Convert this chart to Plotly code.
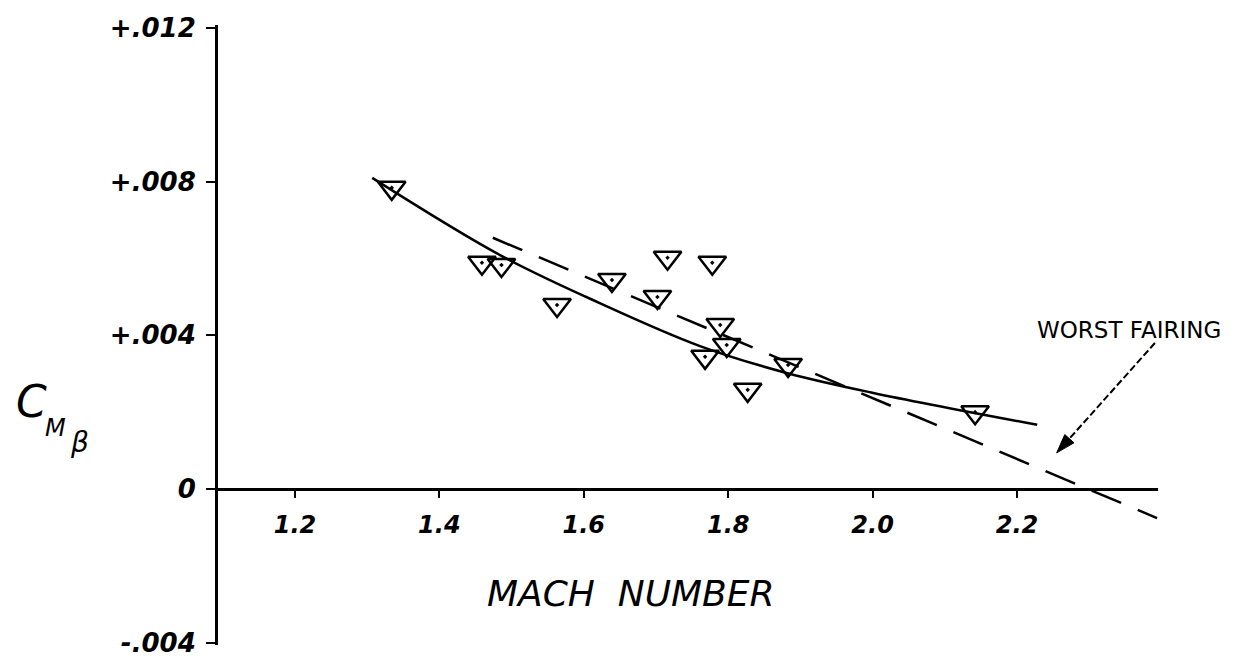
import plotly.graph_objects as go

# Data
mach = [1.334, 1.459, 1.486, 1.563, 1.639, 1.716, 1.778, 1.702, 1.789, 1.798, 1.768, 1.827, 1.883, 2.142]
cmb = [0.00784, 0.00589, 0.00583, 0.00479, 0.00544, 0.00602, 0.00589, 0.00500, 0.00427, 0.00375, 0.00344, 0.00258, 0.00323, 0.00200]

fair_x = [1.307, 1.484, 1.622, 1.761, 1.881, 2.001, 2.228]
fair_y = [0.00810, 0.00609, 0.00484, 0.00372, 0.00302, 0.00250, 0.00167]

worst_x = [1.474, 2.394]
worst_y = [0.00654, -0.00076]

arrow_x = [2.391, 2.255]
arrow_y = [0.00380, 0.00094]

x_ticks = [1.2, 1.4, 1.6, 1.8, 2.0, 2.2]
x_ticktext = ["1.2", "1.4", "1.6", "1.8", "2.0", "2.2"]
y_ticks = [-0.004, 0.0, 0.004, 0.008, 0.012]
y_ticktext = ["-.004", "0", "+.004", "+.008", "+.012"]

x_range = [1.0934, 2.3953]
y_range = [-0.004063, 0.01208]

fig = go.Figure()

fig.add_trace(go.Scatter(x=fair_x, y=fair_y, mode="lines",
                         line=dict(color="black", width=2.5, shape="spline", smoothing=1.0),
                         hoverinfo="skip", showlegend=False))
fig.add_trace(go.Scatter(x=worst_x, y=worst_y, mode="lines",
                         line=dict(color="black", width=2.5, dash="32px,18px"),
                         hoverinfo="skip", showlegend=False))
fig.add_trace(go.Scatter(x=mach, y=cmb, mode="markers",
                         marker=dict(symbol="triangle-down-open-dot", size=24,
                                     color="black", line=dict(color="black", width=2.5)),
                         showlegend=False))
# arrow pointing at the worst fairing line
fig.add_trace(go.Scatter(x=arrow_x, y=arrow_y, mode="lines+markers",
                         line=dict(color="black", width=2, dash="7px,3px"),
                         marker=dict(symbol="arrow", size=[0, 20], angleref="previous",
                                     color="black", opacity=1,
                                     line=dict(color="black", width=1)),
                         hoverinfo="skip", showlegend=False))

fig.add_annotation(x=2.355, y=0.00414, xref="x", yref="y", text="WORST FAIRING",
                   showarrow=False, font=dict(family="DejaVu Sans", size=23, color="black"))

fig.add_annotation(x=1.665, y=-0.00271, xref="x", yref="y", text="MACH  NUMBER",
                   showarrow=False,
                   font=dict(family="DejaVu Sans", size=36, color="black", style="italic"))

fig.add_annotation(x=-0.198, y=0.392, xref="paper", yref="paper",
                   text="C", showarrow=False, xanchor="center", yanchor="middle",
                   font=dict(family="DejaVu Sans", size=44, color="black", style="italic"))
fig.add_annotation(x=-0.1734, y=0.350, xref="paper", yref="paper",
                   text="M", showarrow=False, xanchor="center", yanchor="middle",
                   font=dict(family="DejaVu Sans", size=24, color="black", style="italic"))
fig.add_annotation(x=-0.147, y=0.326, xref="paper", yref="paper",
                   text="β", showarrow=False, xanchor="center", yanchor="middle",
                   font=dict(family="DejaVu Sans", size=28, color="black", style="italic"))

fig.update_layout(
    width=1226, height=657,
    margin=dict(l=210, r=76, t=17, b=20, autoexpand=False),
    paper_bgcolor="white", plot_bgcolor="white",
    xaxis=dict(range=x_range, anchor="free", position=0.2517, automargin=False,
               showline=True, linecolor="black", linewidth=3,
               showgrid=False, zeroline=False,
               ticks="outside", ticklen=7, tickwidth=2, tickcolor="black",
               tickvals=x_ticks, ticktext=x_ticktext, ticklabelstandoff=6,
               tickfont=dict(family="DejaVu Sans", size=24, color="black",
                             style="italic", weight="bold")),
    yaxis=dict(range=y_range, automargin=False,
               showline=True, linecolor="black", linewidth=3,
               showgrid=False, zeroline=False,
               ticks="outside", ticklen=9, tickwidth=2, tickcolor="black",
               tickvals=y_ticks, ticktext=y_ticktext, ticklabelstandoff=5,
               tickfont=dict(family="DejaVu Sans", size=26, color="black",
                             style="italic", weight="bold")),
)

fig.write_html("out.html")
